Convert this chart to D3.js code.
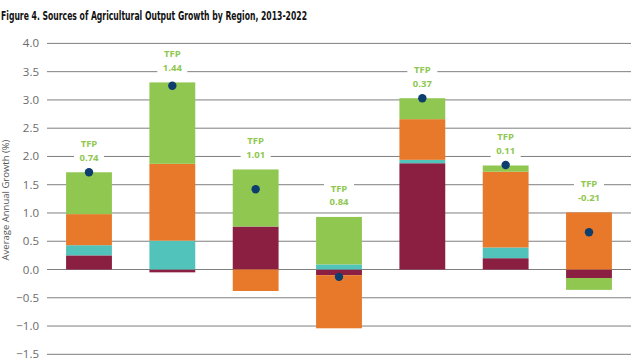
<!DOCTYPE html>
<html><head><meta charset="utf-8">
<script src="https://cdn.jsdelivr.net/npm/d3@7"></script>
<style>body{margin:0;background:#fff}svg{display:block}</style>
</head><body>
<script>
const regions = ["Region 1","Region 2","Region 3","Region 4","Region 5","Region 6","Region 7"];
const landExpansion = [0.25, -0.05, 0.76, -0.10, 1.88, 0.20, -0.15];
const irrigation    = [0.18, 0.51, 0.00, 0.09, 0.06, 0.19, 0.00];
const inputs        = [0.55, 1.36, -0.38, -0.94, 0.72, 1.34, 1.01];
const tfp           = [0.74, 1.44, 1.01, 0.84, 0.37, 0.11, -0.21];
const outputGrowth  = [1.72, 3.25, 1.42, -0.13, 3.03, 1.85, 0.66];
const tfpLabels = ["0.74","1.44","1.01","0.84","0.37","0.11","-0.21"];
const yTicks = [-1.5,-1.0,-0.5,0.0,0.5,1.0,1.5,2.0,2.5,3.0,3.5,4.0];

const keys = ["land","irr","inp","tfp"];
const colors = {land:"#8B1F41", irr:"#52C3BA", inp:"#E8792A", tfp:"#8FC750"};
const table = regions.map((r,i)=>({region:r, land:landExpansion[i], irr:irrigation[i], inp:inputs[i], tfp:tfp[i]}));

const W=640,H=360;
const svg=d3.select("body").append("svg").attr("width",W).attr("height",H);

svg.append("text").attr("x",1).attr("y",20)
  .attr("font-family","'DejaVu Sans Condensed','Liberation Sans Narrow',sans-serif")
  .attr("font-weight","bold").attr("font-size",11.5).attr("fill","#111")
  .attr("textLength",306).attr("lengthAdjust","spacingAndGlyphs")
  .text("Figure 4. Sources of Agricultural Output Growth by Region, 2013-2022");

const y=d3.scaleLinear().domain([-1.5,4.0]).range([354.3,43.4]);
const x=d3.scaleBand().domain(regions).range([47,631]).paddingInner(0.45).paddingOuter(0.229);

// grid
svg.append("g").selectAll("line").data(yTicks).join("line")
  .attr("x1",47).attr("x2",631).attr("y1",d=>y(d)).attr("y2",d=>y(d))
  .attr("stroke","#7f7f7f").attr("stroke-width",1);

// y tick labels
svg.append("g").selectAll("text").data(yTicks).join("text")
  .attr("x",39).attr("y",d=>y(d)).attr("dy","0.35em").attr("text-anchor","end")
  .attr("font-family","'Open Sans',sans-serif").attr("font-size",11.5).attr("fill","#6a6a6a")
  .text(d=>d3.format(".1f")(d));

svg.append("text").attr("transform","translate(9,200) rotate(-90)")
  .attr("text-anchor","middle").attr("font-family","'Open Sans',sans-serif")
  .attr("font-size",9.5).attr("fill","#555").text("Average Annual Growth (%)");

const stack=d3.stack().keys(keys).offset(d3.stackOffsetDiverging)(table);
svg.append("g").selectAll("g").data(stack).join("g").attr("fill",d=>colors[d.key])
  .selectAll("rect").data(d=>d).join("rect")
  .attr("x",d=>x(d.data.region)).attr("width",x.bandwidth())
  .attr("y",d=>y(Math.max(d[0],d[1]))).attr("height",d=>Math.abs(y(d[0])-y(d[1])));

// TFP labels
const posTop = table.map(d=>keys.reduce((s,k)=>s+Math.max(0,d[k]),0));
const lg=svg.append("g").selectAll("g").data(regions).join("g")
  .attr("transform",(d,i)=>`translate(${x(d)+x.bandwidth()/2},${y(posTop[i])-15})`);
lg.append("rect").attr("x",-15).attr("y",-21).attr("width",30).attr("height",28).attr("fill","#fff");
const lt=lg.append("text").attr("text-anchor","middle")
  .attr("font-family","'Open Sans',sans-serif").attr("font-weight","bold").attr("font-size",9.5)
  .attr("fill","#8FC750");
lt.append("tspan").attr("x",0).attr("y",-10.2).text("TFP");
lt.append("tspan").attr("x",0).attr("y",3.4).text((d,i)=>tfpLabels[i]);

// output dots
svg.append("g").selectAll("circle").data(regions).join("circle")
  .attr("cx",d=>x(d)+x.bandwidth()/2).attr("cy",(d,i)=>y(outputGrowth[i])).attr("r",4.2)
  .attr("fill","#0E3E6E");
</script>
</body></html>
